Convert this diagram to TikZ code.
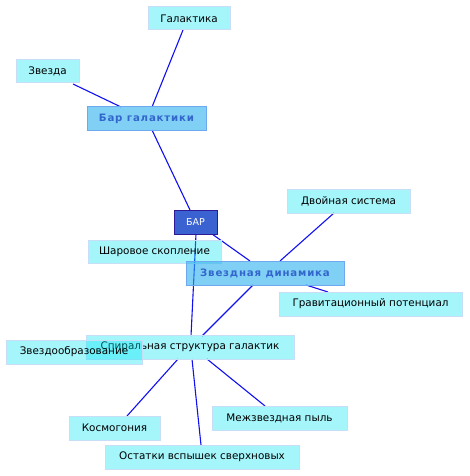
\documentclass[tikz,border=0pt]{standalone}
\usepackage{fontspec}
\setmainfont{DejaVu Sans}
\newfontfamily\sbold[LetterSpace=8]{DejaVu Sans}
\definecolor{leaffill}{HTML}{03E6F4}
\definecolor{leafline}{HTML}{C8DEF6}
\definecolor{midfill}{HTML}{2AB1ED}
\definecolor{midline}{HTML}{6EA8EE}
\definecolor{midtext}{HTML}{3366CC}
\definecolor{rootfill}{HTML}{3A62D0}
\definecolor{rootline}{HTML}{2E1A96}
\definecolor{edgec}{HTML}{1010F0}
\tikzset{
  box/.style={rectangle, inner sep=0pt, line width=1pt, text opacity=1},
  leaf/.style={box, fill=leaffill, fill opacity=0.36, draw=leafline, draw opacity=1, font=\fontsize{10.4}{12}\selectfont, text=black},
  mid/.style={box, fill=midfill, fill opacity=0.6, draw=midline, draw opacity=1, font=\fontsize{10.2}{12}\sbold\bfseries, text=midtext},
  root/.style={box, fill=rootfill, draw=rootline, font=\fontsize{9.5}{12}\selectfont, text=white},
  conn/.style={draw=edgec, line width=1.1pt}
}
\begin{document}
\begin{tikzpicture}[x=1pt,y=-1pt]
\useasboundingbox (0,0) rectangle (469,476);
% coordinates of edge ends
\coordinate (e1a) at (183,30); \coordinate (e1b) at (152,107);
\coordinate (e2a) at (73,84); \coordinate (e2b) at (121,107);
\coordinate (e3a) at (152,130); \coordinate (e3b) at (190,210);
\coordinate (e4a) at (196,234); \coordinate (e4b) at (191,336);
\coordinate (e5a) at (212,234); \coordinate (e5b) at (250,261);
\coordinate (e6a) at (334,213); \coordinate (e6b) at (280,261);
\coordinate (e7a) at (306,285); \coordinate (e7b) at (328,292);
\coordinate (e8a) at (253,285); \coordinate (e8b) at (202,336);
\coordinate (e9a) at (178,359); \coordinate (e9b) at (127,416);
\coordinate (e10a) at (192,359); \coordinate (e10b) at (201,445);
\coordinate (e11a) at (207,359); \coordinate (e11b) at (265,406);
\foreach \i in {1,...,11} {\draw[conn] (e\i a) -- (e\i b);}
% nodes
\node[leaf, minimum width=82pt, minimum height=23pt] (gal) at (189,18.5) {Галактика};
\node[leaf, minimum width=63pt, minimum height=23pt] (zv) at (47.5,71.5) {Звезда};
\node[mid, minimum width=119pt, minimum height=23pt] (barg) at (146.5,118.5) {Бар галактики};
\node[leaf, minimum width=133pt, minimum height=23pt] (shar) at (154.5,251.5) {Шаровое скопление};
\node[root, minimum width=43pt, minimum height=24pt] (bar) at (195.5,222) {БАР};
\node[leaf, minimum width=123pt, minimum height=24pt] (dvo) at (348.5,201) {Двойная система};
\node[mid, minimum width=158pt, minimum height=24pt] (zdin) at (265,273) {Звездная динамика};
\node[leaf, minimum width=183pt, minimum height=24pt] (grav) at (370.5,304) {Гравитационный потенциал};
\node[leaf, minimum width=208pt, minimum height=24pt] (spir) at (190,347) {Спиральная структура галактик};
\node[leaf, minimum width=136pt, minimum height=24pt] (zvo) at (74,352) {Звездообразование};
\node[leaf, minimum width=91pt, minimum height=24pt] (kos) at (114.5,428) {Космогония};
\node[leaf, minimum width=135pt, minimum height=24pt] (mezh) at (279.5,418) {Межзвездная пыль};
\node[leaf, minimum width=194pt, minimum height=24pt] (ost) at (202,457) {Остатки вспышек сверхновых};
\end{tikzpicture}
\end{document}
